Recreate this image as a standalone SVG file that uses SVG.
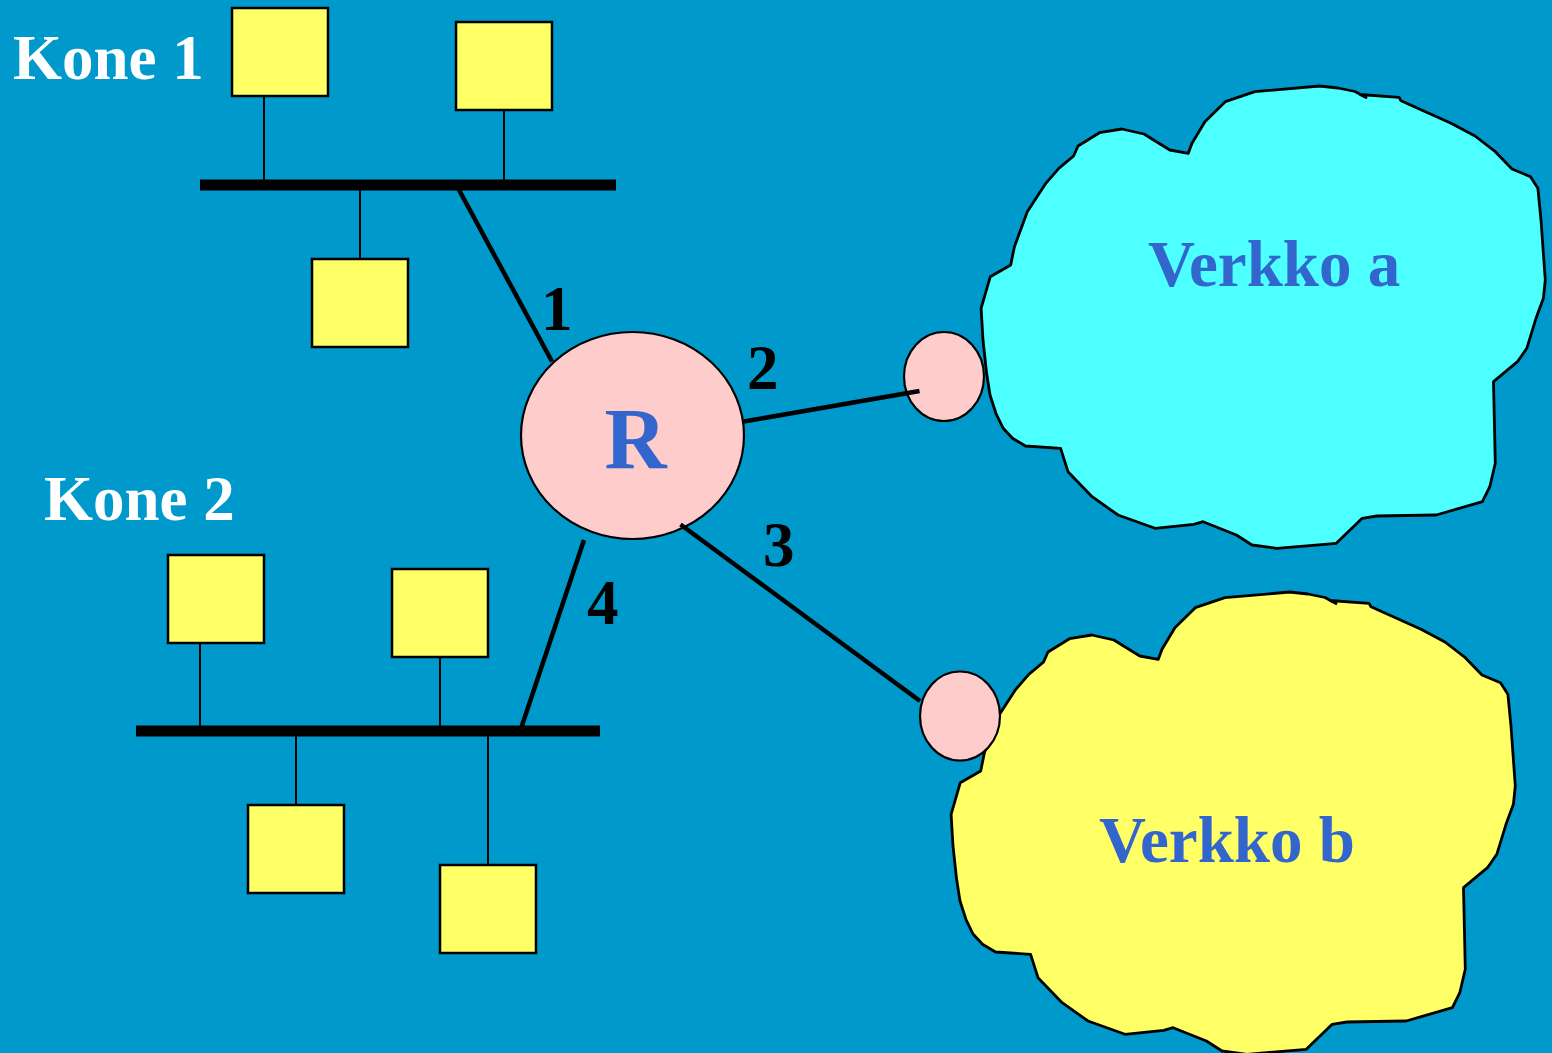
<svg xmlns="http://www.w3.org/2000/svg" xmlns:xlink="http://www.w3.org/1999/xlink" width="1552" height="1053" viewBox="0 0 1552 1053">
  <style>
    .host { fill: #FFFF66; stroke: #000; stroke-width: 2.5; }
    .stem { stroke: #000; stroke-width: 2; fill: none; }
    .bus { stroke: #000; stroke-width: 11; fill: none; }
    .link { stroke: #000; stroke-width: 4.5; fill: none; }
    .iface { fill: #FFCCCC; stroke: #000; stroke-width: 2.2; }
    .cloud { stroke: #000; stroke-width: 2.8; stroke-linejoin: round; }
    .label { font-family: "Liberation Serif", "Times New Roman", serif; font-weight: bold; }
    .white { fill: #fff; font-size: 63px; }
    .num { fill: #000; font-size: 63px; }
    .blue { fill: #3366CC; font-size: 65px; }
  </style>
  <defs>
    <!-- irregular network cloud outline, reused for both networks -->
    <path id="cloud" d="M1121.7,129 L1143.9,134 L1169.8,150 L1188.3,153.3 L1192,143.3 L1204.9,121.7 L1225.3,101.7 L1254.9,91.7 L1319.6,86 L1338,88 L1355,91.5 L1366,97.5 L1360,94.5 L1399,97.3 L1401,100.7 L1451,123.3 L1475,136 L1495.3,151.7 L1512,169 L1530.5,176.7 L1537.9,188.3 L1541,220 L1545.3,280 L1543.4,298.3 L1536,318.3 L1526.8,348.3 L1517.5,361.7 L1493.5,381.7 L1495.3,463.3 L1489.8,486.7 L1482.4,501.7 L1436.2,515 L1377,516 L1362.2,518.3 L1336.3,543.3 L1277,548.3 L1252,545 L1236.4,535 L1203.1,521.7 L1193.8,524.3 L1155,528.3 L1118,515 L1092.1,496.7 L1068,471.7 L1060.6,448.3 L1025.5,446 L1012.5,438.3 L1003,428 L995.9,413.3 L990,395 L986.6,373.3 L983,340 L981.1,308.3 L990.3,276.7 L1010.7,265 L1014.4,246.7 L1027.3,211.7 L1045.8,183.3 L1058.8,168.3 L1073.6,156 L1078,146 L1099.5,132.7 Z"/>
  </defs>

  <!-- background -->
  <rect x="0" y="0" width="1552" height="1053" fill="#0099CC"/>

  <!-- networks -->
  <g id="verkko-a">
    <use xlink:href="#cloud" class="cloud" fill="#4DFFFF"/>
    <text class="label blue" x="1148" y="286">Verkko a</text>
  </g>
  <g id="verkko-b">
    <use xlink:href="#cloud" class="cloud" fill="#FFFF66" transform="translate(-30,506)"/>
    <text class="label blue" x="1099" y="862">Verkko b</text>
  </g>

  <!-- segment Kone 1 -->
  <g id="kone-1">
    <text class="label white" x="13" y="79">Kone 1</text>
    <line class="bus" x1="200" y1="185" x2="616" y2="185"/>
    <line class="stem" x1="264" y1="96" x2="264" y2="180"/>
    <line class="stem" x1="504" y1="110" x2="504" y2="180"/>
    <line class="stem" x1="360" y1="190" x2="360" y2="259"/>
    <rect class="host" x="232" y="8" width="96" height="88"/>
    <rect class="host" x="456" y="22" width="96" height="88"/>
    <rect class="host" x="312" y="259" width="96" height="88"/>
  </g>

  <!-- segment Kone 2 -->
  <g id="kone-2">
    <text class="label white" x="44" y="520">Kone 2</text>
    <line class="bus" x1="136" y1="731" x2="600" y2="731"/>
    <line class="stem" x1="200" y1="643" x2="200" y2="726"/>
    <line class="stem" x1="440" y1="657" x2="440" y2="726"/>
    <line class="stem" x1="296" y1="736" x2="296" y2="805"/>
    <line class="stem" x1="488" y1="736" x2="488" y2="865"/>
    <rect class="host" x="168" y="555" width="96" height="88"/>
    <rect class="host" x="392" y="569" width="96" height="88"/>
    <rect class="host" x="248" y="805" width="96" height="88"/>
    <rect class="host" x="440" y="865" width="96" height="88"/>
  </g>

  <!-- router -->
  <g id="router">
    <ellipse class="iface" cx="632.5" cy="435.5" rx="111.5" ry="103.5"/>
    <text class="label blue" x="635.5" y="468" text-anchor="middle" style="font-size:86px">R</text>
  </g>

  <!-- network interfaces -->
  <g id="iface-a">
    <ellipse class="iface" cx="944" cy="376.5" rx="40" ry="44.5"/>
  </g>
  <g id="iface-b">
    <ellipse class="iface" cx="960" cy="716" rx="40" ry="44.5"/>
  </g>

  <!-- router links with port numbers -->
  <g id="connectors">
    <line class="link" x1="458.5" y1="189" x2="552" y2="361.5"/>
    <line class="link" x1="744" y1="421.5" x2="919.5" y2="391"/>
    <line class="link" x1="680.5" y1="524.5" x2="920" y2="701"/>
    <line class="link" x1="584" y1="540" x2="521.5" y2="727"/>
    <text class="label num" x="541" y="330">1</text>
    <text class="label num" x="747" y="389">2</text>
    <text class="label num" x="763" y="566">3</text>
    <text class="label num" x="587" y="624">4</text>
  </g>
</svg>
